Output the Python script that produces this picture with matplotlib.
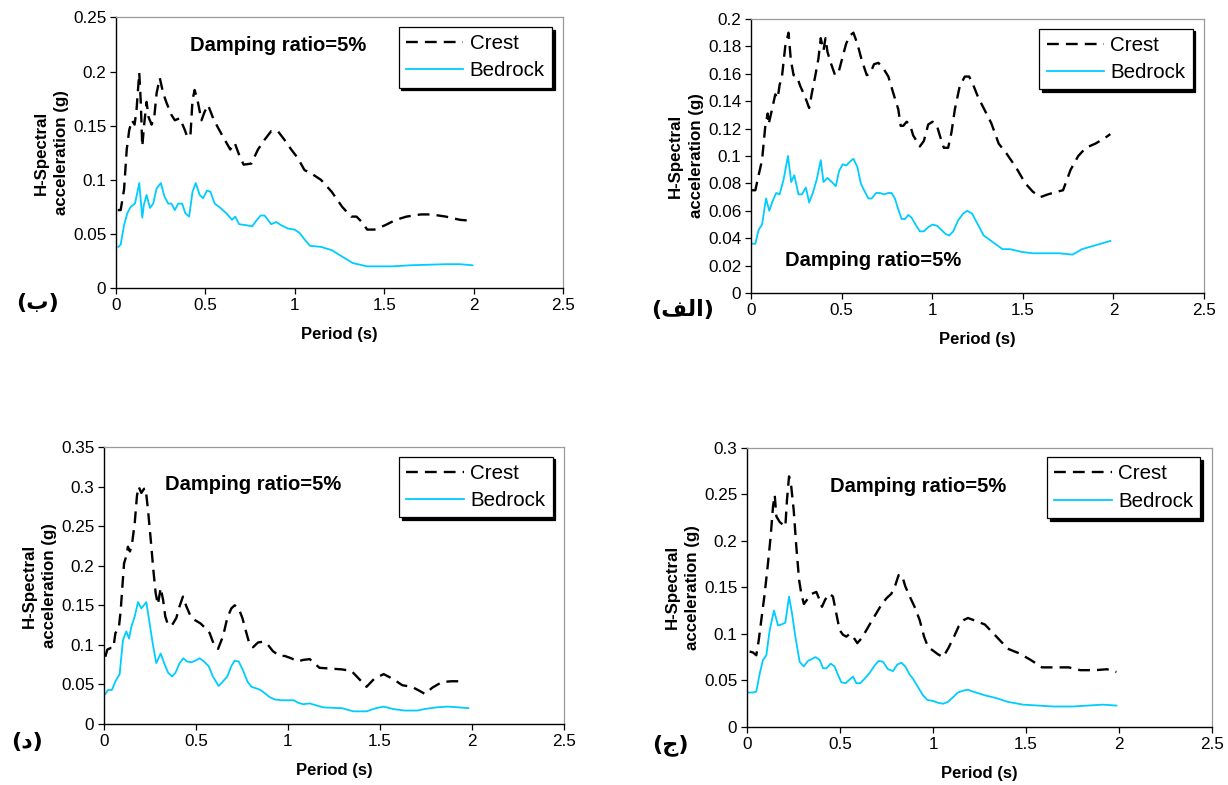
import matplotlib
matplotlib.use('Agg')
import matplotlib.pyplot as plt
from matplotlib.ticker import FuncFormatter, MultipleLocator

plt.rcParams['font.family'] = ['Liberation Sans', 'DejaVu Sans']

# panel (ب) top-left
b_t_crest = [0.01, 0.026, 0.045, 0.06, 0.074, 0.089, 0.104, 0.115, 0.13, 0.138, 0.147, 0.158, 0.171, 0.182,
             0.199, 0.214, 0.227, 0.245, 0.264, 0.283, 0.31, 0.329, 0.357, 0.385, 0.398, 0.416, 0.428, 0.44,
             0.459, 0.478, 0.496, 0.515, 0.543, 0.571, 0.608, 0.639, 0.664, 0.691, 0.714, 0.757, 0.794, 0.831,
             0.868, 0.905, 0.942, 0.98, 1.017, 1.054, 1.091, 1.146, 1.206, 1.265, 1.315, 1.345, 1.375, 1.405,
             1.445, 1.505, 1.565, 1.625, 1.705, 1.764, 1.844, 1.924, 1.994]
b_crest = [0.072, 0.072, 0.091, 0.128, 0.146, 0.155, 0.151, 0.165, 0.199, 0.174, 0.131, 0.152, 0.172, 0.158,
           0.151, 0.158, 0.18, 0.194, 0.18, 0.171, 0.16, 0.155, 0.157, 0.146, 0.14, 0.14, 0.174, 0.183,
           0.171, 0.155, 0.163, 0.169, 0.157, 0.148, 0.137, 0.128, 0.134, 0.122, 0.114, 0.115, 0.128, 0.137,
           0.145, 0.145, 0.137, 0.128, 0.12, 0.109, 0.106, 0.1, 0.089, 0.075, 0.066, 0.066, 0.061, 0.054,
           0.054, 0.058, 0.063, 0.066, 0.068, 0.068, 0.066, 0.063, 0.062]
b_t_bed = [0.013, 0.026, 0.045, 0.063, 0.082, 0.106, 0.119, 0.13, 0.147, 0.156, 0.171, 0.19, 0.208, 0.227,
           0.251, 0.27, 0.292, 0.31, 0.329, 0.348, 0.37, 0.388, 0.409, 0.428, 0.446, 0.468, 0.487, 0.509,
           0.528, 0.552, 0.584, 0.617, 0.649, 0.667, 0.688, 0.729, 0.762, 0.788, 0.809, 0.831, 0.868, 0.896,
           0.924, 0.961, 0.998, 1.026, 1.054, 1.085, 1.146, 1.206, 1.265, 1.325, 1.405, 1.545, 1.645, 1.844,
           1.924, 1.994]
b_bed = [0.038, 0.040, 0.058, 0.069, 0.075, 0.078, 0.088, 0.097, 0.065, 0.077, 0.086, 0.074, 0.078, 0.092,
         0.097, 0.085, 0.078, 0.078, 0.072, 0.078, 0.078, 0.069, 0.066, 0.089, 0.097, 0.086, 0.083, 0.09,
         0.089, 0.078, 0.074, 0.069, 0.063, 0.066, 0.059, 0.058, 0.057, 0.063, 0.067, 0.067, 0.059, 0.061,
         0.058, 0.055, 0.054, 0.051, 0.045, 0.039, 0.038, 0.035, 0.029, 0.023, 0.02, 0.02, 0.021, 0.022,
         0.022, 0.021]

# panel (الف) top-right
a_t_crest = [0.006, 0.024, 0.042, 0.061, 0.079, 0.092, 0.097, 0.116, 0.134, 0.147, 0.158, 0.171, 0.189, 0.207,
             0.22, 0.235, 0.253, 0.272, 0.299, 0.321, 0.336, 0.354, 0.372, 0.385, 0.4, 0.411, 0.422, 0.44,
             0.464, 0.483, 0.501, 0.525, 0.547, 0.565, 0.587, 0.611, 0.639, 0.657, 0.679, 0.703, 0.73, 0.758,
             0.785, 0.813, 0.826, 0.84, 0.859, 0.877, 0.895, 0.914, 0.932, 0.954, 0.978, 1.002, 1.024, 1.042,
             1.064, 1.088, 1.106, 1.125, 1.152, 1.18, 1.204, 1.226, 1.253, 1.326, 1.367, 1.409, 1.461, 1.514,
             1.555, 1.597, 1.639, 1.691, 1.722, 1.764, 1.806, 1.848, 1.9, 1.952, 1.983]
a_crest = [0.075, 0.075, 0.086, 0.097, 0.122, 0.131, 0.123, 0.134, 0.145, 0.142, 0.152, 0.158, 0.18, 0.19,
           0.17, 0.159, 0.158, 0.151, 0.143, 0.135, 0.146, 0.158, 0.171, 0.186, 0.177, 0.186, 0.176, 0.168,
           0.159, 0.161, 0.17, 0.182, 0.188, 0.19, 0.182, 0.17, 0.159, 0.16, 0.167, 0.168, 0.164, 0.158,
           0.146, 0.134, 0.122, 0.122, 0.125, 0.123, 0.115, 0.111, 0.107, 0.111, 0.123, 0.125, 0.123, 0.115,
           0.106, 0.106, 0.117, 0.134, 0.151, 0.158, 0.158, 0.152, 0.143, 0.124, 0.109, 0.102, 0.092, 0.08,
           0.074, 0.070, 0.072, 0.074, 0.075, 0.09, 0.1, 0.106, 0.109, 0.113, 0.116]
a_t_bed = [0.006, 0.024, 0.042, 0.061, 0.083, 0.101, 0.119, 0.139, 0.158, 0.18, 0.204, 0.222, 0.239, 0.262,
           0.281, 0.303, 0.321, 0.341, 0.363, 0.385, 0.4, 0.422, 0.446, 0.468, 0.486, 0.506, 0.525, 0.547,
           0.565, 0.587, 0.606, 0.624, 0.648, 0.666, 0.69, 0.712, 0.734, 0.758, 0.776, 0.794, 0.813, 0.831,
           0.85, 0.868, 0.886, 0.908, 0.932, 0.954, 0.978, 1.002, 1.028, 1.051, 1.075, 1.094, 1.116, 1.143,
           1.171, 1.193, 1.22, 1.244, 1.284, 1.336, 1.388, 1.43, 1.493, 1.555, 1.639, 1.701, 1.775, 1.827,
           1.879, 1.931, 1.983]
a_bed = [0.036, 0.036, 0.046, 0.05, 0.069, 0.06, 0.067, 0.073, 0.072, 0.083, 0.1, 0.081, 0.086, 0.072,
         0.072, 0.077, 0.066, 0.073, 0.083, 0.097, 0.081, 0.084, 0.081, 0.078, 0.089, 0.094, 0.093, 0.096,
         0.098, 0.092, 0.08, 0.075, 0.069, 0.069, 0.073, 0.073, 0.072, 0.073, 0.073, 0.069, 0.061, 0.054,
         0.054, 0.057, 0.055, 0.05, 0.045, 0.045, 0.048, 0.05, 0.049, 0.046, 0.043, 0.042, 0.045, 0.053,
         0.058, 0.06, 0.058, 0.052, 0.042, 0.037, 0.032, 0.032, 0.03, 0.029, 0.029, 0.029, 0.028, 0.032,
         0.034, 0.036, 0.038]

# panel (د) bottom-left
d_t_crest = [0.007, 0.018, 0.036, 0.051, 0.062, 0.08, 0.091, 0.1, 0.109, 0.121, 0.13, 0.141, 0.152, 0.167,
             0.179, 0.188, 0.203, 0.217, 0.226, 0.239, 0.254, 0.268, 0.281, 0.293, 0.308, 0.321, 0.333, 0.348,
             0.37, 0.393, 0.411, 0.429, 0.447, 0.471, 0.496, 0.525, 0.551, 0.574, 0.598, 0.62, 0.647, 0.67,
             0.692, 0.71, 0.732, 0.752, 0.774, 0.792, 0.81, 0.837, 0.864, 0.891, 0.918, 0.955, 0.982, 1.018,
             1.054, 1.082, 1.118, 1.171, 1.232, 1.293, 1.345, 1.386, 1.427, 1.468, 1.52, 1.57, 1.621, 1.673,
             1.714, 1.744, 1.785, 1.837, 1.888, 1.939]
d_crest = [0.085, 0.094, 0.096, 0.096, 0.115, 0.12, 0.144, 0.174, 0.203, 0.212, 0.224, 0.218, 0.227, 0.254,
           0.288, 0.3, 0.292, 0.297, 0.298, 0.271, 0.233, 0.195, 0.165, 0.151, 0.172, 0.157, 0.136, 0.125,
           0.125, 0.134, 0.149, 0.161, 0.149, 0.136, 0.131, 0.127, 0.121, 0.115, 0.1, 0.095, 0.111, 0.134,
           0.146, 0.15, 0.146, 0.134, 0.115, 0.1, 0.097, 0.103, 0.104, 0.1, 0.092, 0.086, 0.086, 0.083,
           0.079, 0.081, 0.082, 0.071, 0.07, 0.069, 0.067, 0.057, 0.047, 0.057, 0.063, 0.057, 0.049, 0.047,
           0.042, 0.038, 0.046, 0.053, 0.054, 0.054]
d_t_bed = [0.007, 0.022, 0.043, 0.062, 0.085, 0.103, 0.121, 0.136, 0.149, 0.167, 0.185, 0.203, 0.23, 0.248,
           0.266, 0.284, 0.308, 0.33, 0.348, 0.37, 0.389, 0.411, 0.431, 0.451, 0.475, 0.496, 0.52, 0.543,
           0.569, 0.592, 0.623, 0.647, 0.67, 0.692, 0.71, 0.732, 0.755, 0.779, 0.801, 0.828, 0.85, 0.873,
           0.9, 0.928, 0.964, 1.0, 1.031, 1.054, 1.082, 1.118, 1.191, 1.293, 1.355, 1.427, 1.478, 1.52,
           1.57, 1.632, 1.703, 1.744, 1.806, 1.867, 1.929, 1.98]
d_bed = [0.038, 0.043, 0.043, 0.054, 0.063, 0.106, 0.117, 0.108, 0.123, 0.136, 0.154, 0.146, 0.154, 0.127,
         0.1, 0.077, 0.089, 0.075, 0.065, 0.06, 0.065, 0.077, 0.083, 0.079, 0.078, 0.08, 0.083, 0.079,
         0.073, 0.06, 0.048, 0.054, 0.06, 0.073, 0.08, 0.079, 0.068, 0.054, 0.047, 0.045, 0.043, 0.039,
         0.034, 0.031, 0.03, 0.03, 0.03, 0.027, 0.025, 0.026, 0.021, 0.02, 0.016, 0.016, 0.02, 0.022,
         0.019, 0.017, 0.017, 0.019, 0.021, 0.022, 0.021, 0.02]

# panel (ج) bottom-right
c_t_crest = [0.014, 0.032, 0.05, 0.063, 0.077, 0.095, 0.113, 0.127, 0.14, 0.149, 0.158, 0.176, 0.194, 0.206,
             0.215, 0.226, 0.238, 0.251, 0.265, 0.28, 0.292, 0.306, 0.324, 0.349, 0.373, 0.391, 0.403, 0.421,
             0.444, 0.462, 0.48, 0.498, 0.516, 0.534, 0.552, 0.57, 0.593, 0.615, 0.642, 0.668, 0.695, 0.722,
             0.749, 0.776, 0.797, 0.815, 0.833, 0.851, 0.875, 0.901, 0.928, 0.952, 0.973, 1.0, 1.027, 1.054,
             1.081, 1.113, 1.138, 1.167, 1.188, 1.215, 1.279, 1.341, 1.402, 1.464, 1.525, 1.586, 1.648, 1.73,
             1.791, 1.873, 1.935, 1.986]
c_crest = [0.081, 0.08, 0.077, 0.093, 0.115, 0.143, 0.176, 0.204, 0.237, 0.249, 0.226, 0.22, 0.217, 0.215,
           0.244, 0.269, 0.258, 0.233, 0.194, 0.158, 0.143, 0.132, 0.137, 0.143, 0.145, 0.136, 0.129, 0.137,
           0.143, 0.14, 0.122, 0.104, 0.099, 0.097, 0.1, 0.097, 0.09, 0.095, 0.104, 0.113, 0.122, 0.131,
           0.138, 0.143, 0.152, 0.163, 0.163, 0.151, 0.14, 0.129, 0.115, 0.097, 0.086, 0.082, 0.078, 0.075,
           0.084, 0.097, 0.108, 0.115, 0.117, 0.115, 0.11, 0.097, 0.084, 0.079, 0.072, 0.064, 0.064, 0.064,
           0.061, 0.061, 0.062, 0.059]
c_t_bed = [0.009, 0.032, 0.05, 0.068, 0.086, 0.104, 0.122, 0.145, 0.167, 0.185, 0.206, 0.226, 0.242, 0.26,
           0.283, 0.305, 0.328, 0.349, 0.369, 0.391, 0.409, 0.427, 0.45, 0.471, 0.489, 0.507, 0.53, 0.552,
           0.57, 0.588, 0.609, 0.633, 0.659, 0.686, 0.708, 0.731, 0.758, 0.785, 0.808, 0.83, 0.851, 0.875,
           0.892, 0.919, 0.946, 0.97, 1.0, 1.027, 1.054, 1.081, 1.108, 1.134, 1.161, 1.188, 1.215, 1.279,
           1.341, 1.402, 1.484, 1.566, 1.648, 1.75, 1.832, 1.914, 1.986]
c_bed = [0.037, 0.037, 0.038, 0.057, 0.072, 0.077, 0.104, 0.125, 0.109, 0.11, 0.112, 0.14, 0.122, 0.097,
         0.07, 0.065, 0.071, 0.073, 0.075, 0.072, 0.063, 0.063, 0.068, 0.065, 0.056, 0.048, 0.047, 0.051,
         0.054, 0.047, 0.047, 0.052, 0.058, 0.066, 0.071, 0.07, 0.062, 0.06, 0.067, 0.069, 0.065, 0.056,
         0.052, 0.043, 0.034, 0.029, 0.028, 0.026, 0.025, 0.027, 0.032, 0.037, 0.039, 0.04, 0.038, 0.034,
         0.031, 0.027, 0.024, 0.023, 0.022, 0.022, 0.023, 0.024, 0.023]

x_ticks = [0, 0.5, 1, 1.5, 2, 2.5]

CREST_COLOR = 'black'
BED_COLOR = '#00CCFF'


def fmt(v, pos):
    return '%g' % round(v, 3)


def draw_panel(rect, t_crest, crest, t_bed, bed, ymax, ystep, damp_xy, tag, tag_xy):
    ax = fig.add_axes(rect)
    ax.plot(t_crest, crest, color=CREST_COLOR, lw=1.7, ls=(0, (5, 3)), label='Crest')
    ax.plot(t_bed, bed, color=BED_COLOR, lw=1.3, label='Bedrock')
    ax.set_xlim(0, 2.5)
    ax.set_ylim(0, ymax)
    ax.set_xticks(x_ticks)
    ax.yaxis.set_major_locator(MultipleLocator(ystep))
    ax.xaxis.set_major_formatter(FuncFormatter(fmt))
    ax.yaxis.set_major_formatter(FuncFormatter(fmt))
    ax.tick_params(direction='out', length=4, width=0.9, labelsize=12.3, pad=3)
    for s in ['left', 'bottom']:
        ax.spines[s].set_color('black')
        ax.spines[s].set_linewidth(1.0)
    for s in ['top', 'right']:
        ax.spines[s].set_color('#9a9a9a')
        ax.spines[s].set_linewidth(0.9)
    ax.set_xlabel('Period (s)', fontsize=12, fontweight='bold', labelpad=10)
    ax.set_ylabel('H-Spectral\nacceleration (g)', fontsize=12.2, fontweight='bold',
                  labelpad=3, linespacing=1.45)
    ax.text(damp_xy[0], damp_xy[1], 'Damping ratio=5%', transform=ax.transAxes,
            fontsize=14.5, fontweight='bold', ha='left', va='center')
    leg = ax.legend(loc='upper right', bbox_to_anchor=(0.975, 0.965), fontsize=14.8,
                    frameon=True, fancybox=False, framealpha=1, edgecolor='black',
                    shadow={'color': 'black', 'alpha': 1}, borderpad=0.35,
                    labelspacing=0.4, handlelength=2.8, handletextpad=0.3, borderaxespad=0)
    leg.get_frame().set_linewidth(0.9)
    fig.text(tag_xy[0], tag_xy[1], tag, fontsize=16, fontweight='bold',
             family=['DejaVu Sans'], ha='center', va='center')
    return ax


fig = plt.figure(figsize=(12.28, 7.85), dpi=100)

draw_panel([116 / 1228, 1 - 288 / 785, 447 / 1228, 270.5 / 785], b_t_crest, b_crest, b_t_bed, b_bed,
           0.25, 0.05, (0.166, 0.898), '(\u0628)', (38 / 1228, 1 - 303 / 785))
draw_panel([751 / 1228, 1 - 293 / 785, 453 / 1228, 274 / 785], a_t_crest, a_crest, a_t_bed, a_bed,
           0.2, 0.02, (0.075, 0.12), '(\uFED2\uFEDF\uFE8D)', (683 / 1228, 1 - 310 / 785))
draw_panel([104 / 1228, 1 - 724 / 785, 460 / 1228, 277 / 785], d_t_crest, d_crest, d_t_bed, d_bed,
           0.35, 0.05, (0.133, 0.863), '(\u062F)', (27 / 1228, 1 - 742 / 785))
draw_panel([747 / 1228, 1 - 727 / 785, 465 / 1228, 279.5 / 785], c_t_crest, c_crest, c_t_bed, c_bed,
           0.3, 0.05, (0.178, 0.859), '(\u062C)', (670 / 1228, 1 - 745 / 785))

fig.savefig('out.png', dpi=100)
